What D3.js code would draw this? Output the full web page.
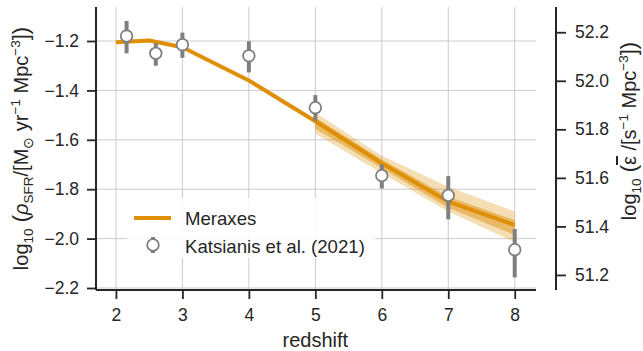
<!DOCTYPE html>
<html>
<head>
<meta charset="utf-8">
<script src="https://cdn.jsdelivr.net/npm/d3@7"></script>
<style>
  body { margin: 0; background: #fff; }
  text { font-family: "Liberation Sans", Arial, sans-serif; fill: #262626; }
</style>
</head>
<body>
<div id="chart"></div>
<script>
// Meraxes model
var meraxesZ = [2, 2.5, 3, 4, 5, 6, 7, 8];
var meraxesSFRD = [-1.205, -1.198, -1.225, -1.36, -1.525, -1.695, -1.85, -1.945];
var bandZ = [5, 6, 7, 8];
var outerLo = [-1.575, -1.735, -1.89, -2.015];
var outerHi = [-1.49, -1.665, -1.79, -1.89];
var innerLo = [-1.555, -1.715, -1.875, -1.985];
var innerHi = [-1.51, -1.68, -1.83, -1.925];

// Katsianis et al. (2021)
var katZ = [2.16, 2.6, 3, 4, 5, 6, 7, 8];
var katSFRD = [-1.18, -1.25, -1.215, -1.26, -1.47, -1.745, -1.825, -2.045];
var katLo = [-1.25, -1.30, -1.268, -1.327, -1.523, -1.797, -1.922, -2.157];
var katHi = [-1.119, -1.209, -1.166, -1.201, -1.419, -1.699, -1.747, -1.961];

var xTicks = [2, 3, 4, 5, 6, 7, 8];
var yTicks = [-1.2, -1.4, -1.6, -1.8, -2.0, -2.2];
var y2Ticks = [51.2, 51.4, 51.6, 51.8, 52.0, 52.2];

var W = 643, H = 351;
var pL = 96, pR = 536, pT = 7, pB = 290;
var orange = "#de8f05", grey = "#7f7f7f", ink = "#262626";
var tickFont = 17.5, labelFont = 20, legendFont = 18.6;

var x = d3.scaleLinear().domain([1.70, 8.32]).range([pL, pR]);
var y = d3.scaleLinear().domain([-1.0623, -2.2081]).range([pT, pB]);
var y2 = d3.scaleLinear().domain([52.304, 51.138]).range([pT, pB]);

var svg = d3.select("#chart").append("svg")
  .attr("width", W).attr("height", H)
  .style("background", "#fff");

// grid
svg.append("g").selectAll("line").data(xTicks).enter().append("line")
  .attr("x1", function(d) { return x(d); }).attr("x2", function(d) { return x(d); })
  .attr("y1", pT).attr("y2", pB)
  .attr("stroke", "#cccccc").attr("stroke-width", 1);
svg.append("g").selectAll("line").data(yTicks).enter().append("line")
  .attr("y1", function(d) { return y(d); }).attr("y2", function(d) { return y(d); })
  .attr("x1", pL).attr("x2", pR)
  .attr("stroke", "#cccccc").attr("stroke-width", 1);

// bands
function band(lo, hi) {
  var rows = bandZ.map(function(z, i) { return {z: z, lo: lo[i], hi: hi[i]}; });
  return d3.area()
    .x(function(d) { return x(d.z); })
    .y0(function(d) { return y(d.lo); })
    .y1(function(d) { return y(d.hi); })(rows);
}
svg.append("path").attr("d", band(outerLo, outerHi))
  .attr("fill", orange).attr("fill-opacity", 0.3);
svg.append("path").attr("d", band(innerLo, innerHi))
  .attr("fill", orange).attr("fill-opacity", 0.45);

// Meraxes line
var line = d3.line()
  .x(function(d) { return x(d[0]); })
  .y(function(d) { return y(d[1]); });
svg.append("path")
  .datum(meraxesZ.map(function(z, i) { return [z, meraxesSFRD[i]]; }))
  .attr("d", line)
  .attr("fill", "none").attr("stroke", orange).attr("stroke-width", 4)
  .attr("stroke-linejoin", "round");

// Katsianis points
var pts = katZ.map(function(z, i) {
  return {z: z, v: katSFRD[i], lo: katLo[i], hi: katHi[i]};
});
var pg = svg.append("g");
pg.selectAll("line").data(pts).enter().append("line")
  .attr("x1", function(d) { return x(d.z); }).attr("x2", function(d) { return x(d.z); })
  .attr("y1", function(d) { return y(d.lo); }).attr("y2", function(d) { return y(d.hi); })
  .attr("stroke", grey).attr("stroke-width", 4);
pg.selectAll("circle").data(pts).enter().append("circle")
  .attr("cx", function(d) { return x(d.z); })
  .attr("cy", function(d) { return y(d.v); })
  .attr("r", 5.8)
  .attr("fill", "#fff").attr("stroke", grey).attr("stroke-width", 1.8);

// axes
var fmt = d3.format(".1f");
var gx = svg.append("g").attr("transform", "translate(0," + pB + ")")
  .call(d3.axisBottom(x).tickValues(xTicks).tickSize(9).tickPadding(10).tickFormat(d3.format("d")));
var gy = svg.append("g").attr("transform", "translate(" + pL + ",0)")
  .call(d3.axisLeft(y).tickValues(yTicks).tickSize(9).tickPadding(8).tickFormat(fmt));
var gy2 = svg.append("g").attr("transform", "translate(556,0)")
  .call(d3.axisRight(y2).tickValues(y2Ticks).tickSize(10).tickPadding(9).tickFormat(fmt));

[gx, gy, gy2].forEach(function(g) {
  g.select(".domain").attr("stroke", ink).attr("stroke-width", 2);
  g.selectAll(".tick line").attr("stroke", ink).attr("stroke-width", 1.8);
  g.selectAll(".tick text").attr("font-size", tickFont)
    .style("font-family", "'Liberation Sans', Arial, sans-serif").attr("fill", ink);
});
gx.select(".domain").attr("d", "M" + pL + ",0H" + pR);
gy.select(".domain").attr("d", "M0," + pT + "V" + pB);
gy2.select(".domain").attr("d", "M0," + pT + "V" + pB);

// axis titles
svg.append("text")
  .attr("x", x(5)).attr("y", 347)
  .attr("text-anchor", "middle").attr("font-size", labelFont)
  .text("redshift");

var sub = 13.5, big = 22;
var yl = svg.append("text")
  .attr("transform", "translate(28," + ((pT + pB) / 2) + ") rotate(-90)")
  .attr("text-anchor", "middle").attr("font-size", labelFont);
yl.append("tspan").text("log");
yl.append("tspan").attr("font-size", sub).attr("dy", 5).text("10");
yl.append("tspan").attr("dy", -5).attr("font-size", big).text(" (");
yl.append("tspan").attr("font-style", "italic").text("ρ");
yl.append("tspan").attr("font-size", sub).attr("dy", 5).text("SFR");
yl.append("tspan").attr("dy", -5).text("/[M");
yl.append("tspan").attr("font-size", sub).attr("dy", 5).text("⊙");
yl.append("tspan").attr("dy", -5).text(" yr");
yl.append("tspan").attr("font-size", sub).attr("dy", -8).text("−1");
yl.append("tspan").attr("dy", 8).text(" Mpc");
yl.append("tspan").attr("font-size", sub).attr("dy", -8).text("−3");
yl.append("tspan").attr("dy", 8).attr("font-size", big).text("])");

var yr = svg.append("text")
  .attr("transform", "translate(636,131) rotate(-90)")
  .attr("text-anchor", "middle").attr("font-size", labelFont);
yr.append("tspan").text("log");
yr.append("tspan").attr("font-size", sub).attr("dy", 5).text("10");
yr.append("tspan").attr("dy", -5).attr("font-size", big).text(" (");
yr.append("tspan").style("text-decoration", "overline").text("ε");
yr.append("tspan").text(" /[s");
yr.append("tspan").attr("font-size", sub).attr("dy", -8).text("−1");
yr.append("tspan").attr("dy", 8).text(" Mpc");
yr.append("tspan").attr("font-size", sub).attr("dy", -8).text("−3");
yr.append("tspan").attr("dy", 8).attr("font-size", big).text("])");

// legend
var lg = svg.append("g");
lg.append("rect")
  .attr("x", 127).attr("y", 198).attr("width", 248).attr("height", 60)
  .attr("fill", "#fff").attr("fill-opacity", 0.85);
lg.append("line")
  .attr("x1", 134).attr("x2", 171).attr("y1", 218).attr("y2", 218)
  .attr("stroke", orange).attr("stroke-width", 4);
lg.append("line")
  .attr("x1", 153).attr("x2", 153).attr("y1", 237).attr("y2", 253)
  .attr("stroke", grey).attr("stroke-width", 4);
lg.append("circle")
  .attr("cx", 153).attr("cy", 245).attr("r", 5.8)
  .attr("fill", "#fff").attr("stroke", grey).attr("stroke-width", 1.8);
lg.append("text").attr("x", 185).attr("y", 225).attr("font-size", legendFont).text("Meraxes");
lg.append("text").attr("x", 185).attr("y", 253).attr("font-size", legendFont).text("Katsianis et al. (2021)");
</script>
</body>
</html>
